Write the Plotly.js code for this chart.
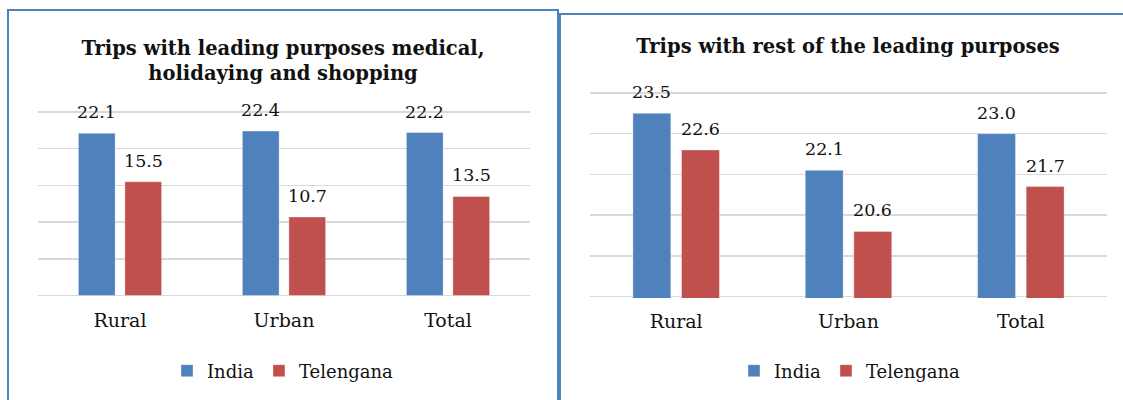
<!DOCTYPE html>
<html>
<head>
<meta charset="utf-8">
<script src="https://cdn.plot.ly/plotly-3.0.1.min.js"></script>
<style>
  html, body { margin: 0; padding: 0; background: #fff; }
  body { width: 1123px; height: 400px; position: relative; overflow: hidden; }
  .frame { position: absolute; box-sizing: border-box; border: 2px solid #4F81BD; border-bottom: none; }
  #f1 { left: 7px; top: 9px; width: 552px; height: 391px; }
  #f2 { left: 559px; top: 13px; width: 600px; height: 387px; border-right: none; }
  #p1 { position: absolute; left: 0; top: 0; width: 559px; height: 400px; }
  #p2 { position: absolute; left: 560px; top: 0; width: 563px; height: 400px; }
</style>
</head>
<body>
<div class="frame" id="f1"></div>
<div class="frame" id="f2"></div>
<div id="p1"></div>
<div id="p2"></div>
<script>
// ---- data ----
const categories = ["Rural", "Urban", "Total"];
const seriesNames = ["India", "Telengana"];
const leftTitle = "Trips with leading purposes medical,<br>holidaying and shopping";
const leftIndia = [22.1, 22.4, 22.2];
const leftTelengana = [15.5, 10.7, 13.5];
const rightTitle = "Trips with rest of the leading purposes";
const rightIndia = [23.5, 22.1, 23.0];
const rightTelengana = [22.6, 20.6, 21.7];

const colors = ["#4F81BD", "#C0504D"];
const FONT = "DejaVu Serif, serif";
const EDGE_TOP = 3;   // px of padding above top gridline
const EDGE_BOT = 1.5; // px of padding below bottom gridline

function makeChart(div, title, india, tel, opt) {
  const series = [india, tel];
  const traces = series.map((vals, i) => ({
    type: "bar",
    name: seriesNames[i],
    x: categories,
    y: vals,
    marker: { color: colors[i], line: { color: "rgba(255,255,255,0.35)", width: 1 } },
    hoverinfo: "skip"
  }));
  const annotations = [];
  series.forEach((vals, i) => {
    vals.forEach((v, j) => {
      annotations.push({
        xref: "x", yref: "y", x: categories[j], y: v,
        text: v.toFixed(1), showarrow: false,
        xanchor: "center", yanchor: "middle",
        xshift: (i === 0 ? -1 : 1) * opt.half, yshift: 21,
        font: { family: FONT, size: 17.5, color: "#111" }
      });
    });
  });
  const pxPerUnit = opt.gridPx / (opt.yrange[1] - opt.yrange[0]);
  const layout = {
    width: opt.w, height: 400,
    margin: { l: opt.l, r: opt.r, t: opt.top - EDGE_TOP, b: 400 - opt.base - EDGE_BOT, pad: 0 },
    paper_bgcolor: "rgba(0,0,0,0)",
    plot_bgcolor: "rgba(0,0,0,0)",
    barmode: "group",
    bargap: opt.bargap,
    bargroupgap: opt.bargroupgap,
    title: {
      text: "<b>" + title + "</b>",
      font: { family: FONT, size: 19.5, color: "#111" },
      xref: "container", x: opt.tx, xanchor: "center",
      yref: "container", y: opt.ty, yanchor: "middle"
    },
    xaxis: {
      type: "category",
      showline: false, showgrid: false, ticks: "",
      tickfont: { family: FONT, size: 19, color: "#111" },
      ticklabelstandoff: 10
    },
    yaxis: {
      range: [opt.yrange[0] - EDGE_BOT / pxPerUnit, opt.yrange[1] + EDGE_TOP / pxPerUnit],
      dtick: opt.dtick, tick0: 0,
      showticklabels: false, ticks: "",
      showgrid: true, gridcolor: "#D9D9D9", gridwidth: 1.5,
      zeroline: false, showline: false, fixedrange: true
    },
    showlegend: true,
    legend: {
      orientation: "h",
      xref: "container", x: opt.lx, xanchor: "center",
      yref: "container", y: 1 - 371 / 400, yanchor: "middle",
      font: { family: FONT, size: 18, color: "#111" },
      itemwidth: 30
    },
    annotations: annotations
  };
  Plotly.newPlot(div, traces, layout, { displayModeBar: false, staticPlot: true });
}

makeChart("p1", leftTitle, leftIndia, leftTelengana, {
  w: 559, l: 38, r: 29, top: 112, base: 296, gridPx: 184,
  bargap: 0.433, bargroupgap: 0.21, half: 23.2,
  yrange: [0, 25], dtick: 5,
  tx: 283 / 559, ty: 1 - 55 / 400, lx: 283 / 559
});
makeChart("p2", rightTitle, rightIndia, rightTelengana, {
  w: 563, l: 30, r: 16, top: 93, base: 297, gridPx: 204,
  bargap: 0.436, bargroupgap: 0.22, half: 24.3,
  yrange: [19, 24], dtick: 1,
  tx: 288 / 563, ty: 1 - 46 / 400, lx: 290 / 563
});
</script>
</body>
</html>
